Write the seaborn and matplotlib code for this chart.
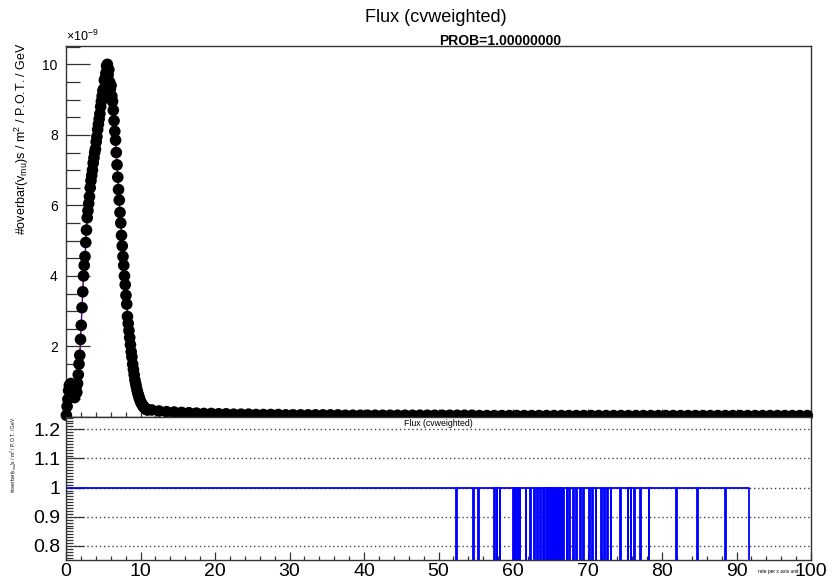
import numpy as np
import pandas as pd
import seaborn as sns
import matplotlib
matplotlib.use("Agg")
import matplotlib.pyplot as plt
from matplotlib.ticker import MultipleLocator, FuncFormatter
from matplotlib.transforms import Bbox

# ---- data (flux in units of 1e-9, bins of 0.1 GeV near the peak) ----
peak_x0, peak_step = 0.05, 0.1
peak_flux = [0.05, 0.3, 0.5, 0.75, 0.9, 0.85, 0.95, 0.7, 0.9, 0.65,
             0.8, 0.55, 0.75, 0.85, 0.7, 0.95, 1.2, 1.5, 1.75, 2.2,
             2.6, 3.1, 3.55, 4.0, 4.3, 4.55, 4.95, 5.3, 5.65, 5.85,
             6.05, 6.25, 6.5, 6.7, 6.85, 7.0, 7.2, 7.35, 7.5, 7.6,
             7.8, 7.95, 8.15, 8.3, 8.45, 8.6, 8.8, 8.95, 9.1, 9.25,
             9.3, 9.55, 9.6, 9.75, 9.95, 10.0, 9.7, 9.85, 9.5, 9.3,
             9.4, 9.1, 8.95, 8.7, 8.4, 8.1, 7.85, 7.5, 7.15, 6.8,
             6.45, 6.15, 5.8, 5.5, 5.15, 4.85, 4.55, 4.3, 4.0, 3.75,
             3.45, 3.2, 2.85, 2.65, 2.45, 2.25, 2.05, 1.85, 1.7, 1.5,
             1.35, 1.2, 1.05, 0.95, 0.85, 0.75, 0.67, 0.6, 0.53, 0.47,
             0.42, 0.38, 0.34, 0.31, 0.28, 0.26, 0.24, 0.22, 0.21, 0.2]

# tail, one value per GeV from 11.5 to 99.5
tail_x0, tail_step = 11.5, 1.0
tail_flux = [0.2, 0.17, 0.15, 0.14, 0.13, 0.12, 0.11, 0.1, 0.1, 0.09,
             0.09, 0.08, 0.08, 0.08, 0.07, 0.07, 0.07, 0.07, 0.06, 0.06,
             0.06, 0.06, 0.06, 0.06, 0.06, 0.06, 0.05, 0.05, 0.05, 0.05,
             0.05, 0.05, 0.05, 0.05, 0.05, 0.05, 0.05, 0.05, 0.05, 0.05,
             0.05, 0.05, 0.05, 0.05, 0.04, 0.04, 0.04, 0.04, 0.04, 0.04,
             0.04, 0.04, 0.04, 0.04, 0.04, 0.04, 0.04, 0.04, 0.04, 0.04,
             0.04, 0.04, 0.04, 0.04, 0.04, 0.04, 0.04, 0.04, 0.04, 0.04,
             0.04, 0.04, 0.04, 0.04, 0.04, 0.04, 0.04, 0.04, 0.04, 0.04,
             0.04, 0.04, 0.04, 0.04, 0.04, 0.04, 0.04, 0.04, 0.04]

# ratio panel: empty bins (ratio drops to 0) and end of filled range
gap_centers = [52.45, 54.65, 55.35, 57.55, 57.85, 58.25, 60.05, 60.35, 60.55,
               60.75, 60.95, 61.75, 62.35, 62.85, 63.25, 63.65, 64.05, 64.25,
               64.55, 64.75, 64.95, 65.15, 65.35, 65.55, 65.75, 65.95, 66.15,
               66.35, 66.55, 66.75, 67.25, 67.55, 68.15, 68.55, 69.05, 69.45,
               70.25, 70.65, 71.15, 71.85, 72.25, 72.65, 73.15, 74.45, 75.45,
               75.85, 76.35, 77.15, 78.25, 81.95, 84.75, 88.55]
gap_width = 0.1
ratio_end = 91.7

title = "Flux (cvweighted)"
ylabel = r"#overbar(v$_{\mathregular{mu}}$)s / m$^{\mathregular{2}}$ / P.O.T. / GeV"

# ---- frames ----
peak_df = pd.DataFrame({"E": peak_x0 + peak_step * np.arange(len(peak_flux)),
                        "flux": peak_flux})
tail_df = pd.DataFrame({"E": tail_x0 + tail_step * np.arange(len(tail_flux)),
                        "flux": tail_flux})
flux_df = pd.concat([peak_df, tail_df], ignore_index=True)

rx, ry = [0.0, 0.0], [0.0, 1.0]
for c in gap_centers:
    a, b = c - gap_width / 2, c + gap_width / 2
    rx += [a, a, b, b]
    ry += [1.0, 0.0, 0.0, 1.0]
rx += [ratio_end, ratio_end, 100.0]
ry += [1.0, 0.0, 0.0]
ratio_df = pd.DataFrame({"E": rx, "ratio": ry})

# ---- style ----
sns.set_style("ticks")
plt.rcParams["font.family"] = ["Liberation Sans", "DejaVu Sans"]
plt.rcParams["mathtext.fontset"] = "custom"
plt.rcParams["mathtext.rm"] = "Liberation Sans"
plt.rcParams["mathtext.it"] = "Liberation Sans:italic"
plt.rcParams["text.color"] = "black"
plt.rcParams["xtick.labelcolor"] = "black"
plt.rcParams["ytick.labelcolor"] = "black"

W, H = 832, 587
fig = plt.figure(figsize=(W / 100, H / 100), dpi=100)
L, R = 66, 811
ax1 = fig.add_axes([L / W, 1 - 417 / H, (R - L) / W, (417 - 46) / H])
ax2 = fig.add_axes([L / W, 1 - 560 / H, (R - L) / W, (560 - 417) / H])
ax2.set_facecolor("white")

# ---- upper panel ----
sns.lineplot(data=flux_df, x="E", y="flux", ax=ax1, color="red", lw=1.0,
             sort=False, estimator=None, zorder=2)
sns.lineplot(data=flux_df, x="E", y="flux", ax=ax1, color="blue", lw=0.6,
             sort=False, estimator=None, zorder=2)
sns.scatterplot(data=flux_df, x="E", y="flux", ax=ax1, color="black", s=70,
                edgecolor="none", zorder=3, clip_on=False)
ax1.set_xlim(0, 100)
ax1.set_ylim(0, 10.52)
ax1.set_xlabel("")
ax1.set_ylabel("")
ax1.xaxis.set_major_locator(MultipleLocator(10))
ax1.xaxis.set_minor_locator(MultipleLocator(2))
ax1.yaxis.set_major_locator(MultipleLocator(2))
ax1.yaxis.set_minor_locator(MultipleLocator(0.5))
ax1.yaxis.set_major_formatter(FuncFormatter(lambda v, p: "" if v < 0.5 else "%d" % round(v)))
ax1.tick_params(axis="x", which="both", direction="in", labelbottom=False,
                color="#333333", width=0.9)
ax1.tick_params(axis="x", which="major", length=6)
ax1.tick_params(axis="x", which="minor", length=3.5)
ax1.tick_params(axis="y", which="both", direction="in", color="#333333",
                width=0.9, labelsize=10, pad=6)
ax1.tick_params(axis="y", which="major", length=17)
ax1.tick_params(axis="y", which="minor", length=10)
for s in ax1.spines.values():
    s.set_visible(True)
    s.set_linewidth(1.0)
    s.set_color("#333333")

# ---- lower panel ----
for y in [0.8, 0.9, 1.0, 1.1, 1.2]:
    ax2.axhline(y, color="#444444", lw=1.0, ls=(0, (1, 2)), zorder=1)
sns.lineplot(data=ratio_df, x="E", y="ratio", ax=ax2, color="blue", lw=1.3,
             sort=False, estimator=None, zorder=2)
ax2.set_xlim(0, 100)
ax2.set_ylim(0.752, 1.242)
ax2.set_xlabel("")
ax2.set_ylabel("")
ax2.xaxis.set_major_locator(MultipleLocator(10))
ax2.xaxis.set_minor_locator(MultipleLocator(2))
ax2.yaxis.set_major_locator(MultipleLocator(0.1))
ax2.yaxis.set_minor_locator(MultipleLocator(0.01))
ax2.yaxis.set_major_formatter(FuncFormatter(lambda v, p: "%g" % round(v, 2)))
ax2.tick_params(axis="both", which="both", direction="in", color="#333333",
                width=0.9, labelsize=14)
ax2.tick_params(axis="x", which="major", length=6, pad=2)
ax2.tick_params(axis="x", which="minor", length=3)
ax2.tick_params(axis="y", which="major", length=13, pad=4)
ax2.tick_params(axis="y", which="minor", length=5)
for s in ax2.spines.values():
    s.set_visible(True)
    s.set_linewidth(1.0)
    s.set_color("#333333")
ax2.text(0.5, 0.985, title, transform=ax2.transAxes, ha="center", va="top",
         fontsize=6.3)

# ---- texts ----
fig.text(436 / W, 1 - 18 / H, title, ha="center", va="center", fontsize=13)
fig.text(500 / W, 1 - 41 / H, "PROB=1.00000000", ha="center", va="center",
         fontsize=10, fontweight="bold")
fig.text(66 / W, 1 - 44 / H, r"$\times$10$^{\mathregular{-9}}$", ha="left",
         va="bottom", fontsize=9)
fig.text(22 / W, 1 - 42 / H, ylabel, rotation=90, ha="center", va="top",
         fontsize=9)
fig.text(14 / W, 1 - 417 / H, ylabel, rotation=90, ha="center", va="top",
         fontsize=3.5)
fig.text(758 / W, 1 - 572 / H, "rate per x axis unit", ha="left",
         va="center", fontsize=3.5)
# y=0 label of the upper pad, mostly hidden under the ratio pad
zero = fig.text(64 / W, 1 - 420 / H, "0", ha="center", va="center", fontsize=10)
zero.set_clip_box(Bbox.from_extents(0, (H - 416) / 100 * fig.dpi, W, H))
zero.set_clip_on(True)

fig.savefig("out.png", dpi=100)
